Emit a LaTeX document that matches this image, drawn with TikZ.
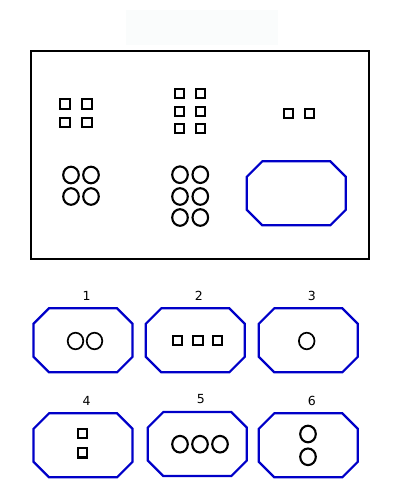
\documentclass[tikz,border=0pt]{standalone}
\usepackage{fontspec}
\setmainfont{DejaVu Sans}
\definecolor{octablue}{RGB}{0,0,200}
\definecolor{faint}{RGB}{250,252,252}
\tikzset{
    octaline/.style={draw=octablue, line width=2.2pt, line join=miter},
    sq/.style={draw, line width=2.1pt},
    ring/.style={draw, line width=2.1pt},
    ringthin/.style={draw, line width=1.7pt},
    numlabel/.style={font=\fontsize{12.5}{14}\selectfont, inner sep=0pt},
    pics/octa/.style={code={
        \draw[octaline] (-49.5,-16.5) -- (-34,-32) -- (34,-32) -- (49.5,-16.5)
            -- (49.5,16.5) -- (34,32) -- (-34,32) -- (-49.5,16.5) -- cycle;
    }}
}
\newcommand{\sqat}[2]{\draw[sq] (#1-4.7,#2-4.7) rectangle (#1+4.7,#2+4.7);}
\newcommand{\ringat}[3][ring]{\draw[#1] (#2,#3) ellipse [x radius=7.8, y radius=8.3];}
\begin{document}
\begin{tikzpicture}[x=1pt,y=-1pt]
    \useasboundingbox (0,0) rectangle (400,500);
    % faint title box
    \fill[faint] (126,10) rectangle (278,45);
    % main frame
    \draw[line width=1.8pt] (31,51) rectangle (369,259);
    \foreach \x in {65,87}
        \foreach \y in {104,122.5} {\sqat{\x}{\y}}
    \foreach \x in {179.3,200.7}
        \foreach \y in {93.3,111.3,128.5} {\sqat{\x}{\y}}
    \foreach \x in {288.3,309.7} {\sqat{\x}{113.5}}
    \foreach \x in {71,91}
        \foreach \y in {175,196.5} {\ringat{\x}{\y}}
    \foreach \x in {180,200.3}
        \foreach \y in {174.7,196.5,217.5} {\ringat{\x}{\y}}
    \pic at (296.3,193.3) {octa};
    % answer choices
    \foreach \x/\y/\n in {83/340.3/1, 195.3/340.3/2, 308.3/340.3/3,
                          83/445.3/4, 197.3/444/5, 308.3/445.3/6} {
        \pic at (\x,\y) {octa};
        \node[numlabel] (lab\n) at (\x+3.5,\y-44.5) {\n};
    }
    % 1
    \foreach \x in {75.5,94.5} {\ringat[ringthin]{\x}{341}}
    % 2
    \foreach \x in {177.3,198,217.5} {\sqat{\x}{340.7}}
    % 3
    \ringat[ringthin]{306.7}{341}
    % 4
    \foreach \y in {433.3,452.8} {\sqat{82.7}{\y}}
    % 5
    \foreach \x in {180,200,220} {\ringat{\x}{444.2}}
    % 6
    \foreach \y in {434,456.8} {\ringat{308}{\y}}
\end{tikzpicture}
\end{document}
